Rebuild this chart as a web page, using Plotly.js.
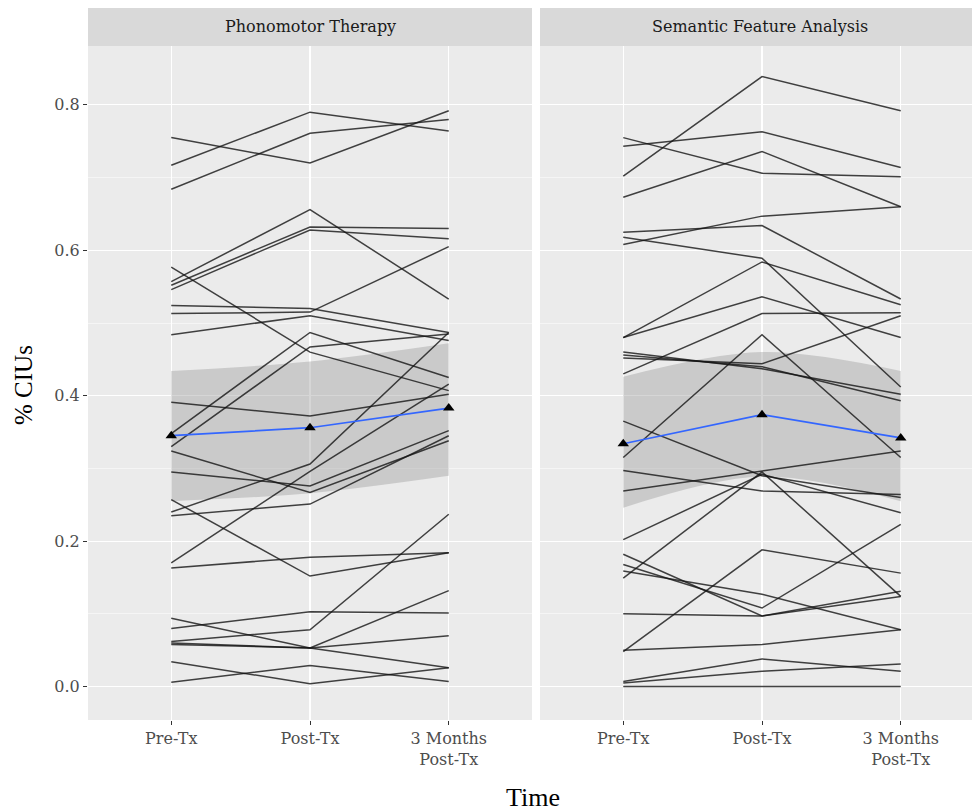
<!DOCTYPE html>
<html>
<head>
<meta charset="utf-8">
<script src="https://cdn.plot.ly/plotly-3.0.1.min.js"></script>
<style>html,body{margin:0;padding:0;background:#fff;}#chart{width:972px;height:811px;}</style>
</head>
<body>
<div id="chart"></div>
<script>
// ---- Data ----
const timeLabels = ["Pre-Tx", "Post-Tx", "3 Months<br>Post-Tx"];
const panelNames = ["Phonomotor Therapy", "Semantic Feature Analysis"];
const yTickVals = [0, 0.2, 0.4, 0.6, 0.8];
const yTickText = ["0.0", "0.2", "0.4", "0.6", "0.8"];

// Phonomotor Therapy: one value per participant at each time point
const pmtPre  = [0.755,0.717,0.684,0.557,0.552,0.546,0.577,0.524,0.513,0.484,0.391,0.348,0.330,0.240,0.235,0.170,0.295,0.324,0.257,0.163,0.094,0.080,0.062,0.060,0.058,0.034,0.006];
const pmtPost = [0.720,0.790,0.761,0.656,0.632,0.628,0.460,0.520,0.515,0.510,0.372,0.487,0.467,0.306,0.251,0.296,0.276,0.267,0.152,0.178,0.053,0.103,0.078,0.053,0.053,0.004,0.029];
const pmt3mo  = [0.792,0.764,0.780,0.533,0.630,0.616,0.407,0.487,0.605,0.476,0.402,0.425,0.485,0.487,0.345,0.416,0.352,0.338,0.184,0.184,0.026,0.101,0.237,0.132,0.070,0.026,0.007];
const pmtMean  = [0.345, 0.356, 0.383];
const pmtLower = [0.255, 0.266, 0.290];
const pmtUpper = [0.434, 0.447, 0.472];

// Semantic Feature Analysis
const sfaPre  = [0.702,0.743,0.755,0.673,0.608,0.625,0.618,0.480,0.480,0.430,0.460,0.452,0.456,0.315,0.365,0.297,0.269,0.202,0.149,0.182,0.168,0.159,0.100,0.048,0.050,0.007,0.005,0.000];
const sfaPost = [0.839,0.763,0.706,0.736,0.647,0.634,0.589,0.584,0.536,0.513,0.437,0.444,0.440,0.484,0.290,0.269,0.297,0.292,0.295,0.097,0.108,0.127,0.097,0.188,0.058,0.038,0.021,0.000];
const sfa3mo  = [0.792,0.714,0.701,0.660,0.660,0.533,0.412,0.525,0.480,0.514,0.402,0.510,0.393,0.315,0.260,0.264,0.324,0.239,0.124,0.131,0.223,0.078,0.124,0.156,0.078,0.021,0.031,0.000];
const sfaMean  = [0.334, 0.374, 0.342];
const sfaLower = [0.246, 0.289, 0.255];
const sfaUpper = [0.426, 0.460, 0.434];

// ---- Build traces ----
const FONT = "DejaVu Serif, serif";
const TITLEFONT = "Liberation Serif, Times New Roman, serif";
const traces = [];
function addPanel(pre, post, mo3, mean, lower, upper, xa, ya) {
  traces.push({x: timeLabels, y: lower, xaxis: xa, yaxis: ya, type: "scatter", mode: "lines",
    line: {width: 0, shape: "spline", smoothing: 1}, hoverinfo: "skip", showlegend: false});
  traces.push({x: timeLabels, y: upper, xaxis: xa, yaxis: ya, type: "scatter", mode: "lines",
    fill: "tonexty", fillcolor: "rgba(153,153,153,0.4)",
    line: {width: 0, shape: "spline", smoothing: 1}, hoverinfo: "skip", showlegend: false});
  for (let i = 0; i < pre.length; i++) {
    traces.push({x: timeLabels, y: [pre[i], post[i], mo3[i]], xaxis: xa, yaxis: ya,
      type: "scatter", mode: "lines", line: {color: "rgba(20,20,20,0.8)", width: 1.5},
      showlegend: false});
  }
  traces.push({x: timeLabels, y: mean, xaxis: xa, yaxis: ya, type: "scatter", mode: "lines",
    line: {color: "#3366FF", width: 1.7}, showlegend: false});
  traces.push({x: timeLabels, y: mean, xaxis: xa, yaxis: ya, type: "scatter", mode: "markers",
    marker: {symbol: "triangle-up", size: 10, color: "#000"}, showlegend: false});
}
addPanel(pmtPre, pmtPost, pmt3mo, pmtMean, pmtLower, pmtUpper, "x", "y");
addPanel(sfaPre, sfaPost, sfa3mo, sfaMean, sfaLower, sfaUpper, "x2", "y2");

const W = 972, H = 811, mL = 88, mR = 0, mT = 46, mB = 91;
const pw = W - mL - mR, ph = H - mT - mB;
const unit = (532 - 88) / 3.2;             // pixels per category step
const d1 = [0, (532 - mL) / pw], d2 = [(540 - mL) / pw, 1];
const x2End = -0.6 + (W - 540) / unit;      // right panel is cut by the image edge
const yRange = [-0.046, 0.881];

const xCommon = {
  type: "category", showgrid: true, gridcolor: "#ffffff", gridwidth: 1.1,
  zeroline: false, showline: false, ticks: "outside", ticklen: 4, tickcolor: "#333333", tickwidth: 1,
  tickfont: {family: FONT, size: 16, color: "#4d4d4d"}, fixedrange: true
};
const yCommon = {
  range: yRange, tickvals: yTickVals, ticktext: yTickText, showgrid: true, gridcolor: "#ffffff",
  gridwidth: 1.1, zeroline: false, showline: false,
  minor: {dtick: 0.1, tick0: 0.1, showgrid: true, gridcolor: "#ffffff", gridwidth: 0.5, ticks: ""},
  tickfont: {family: FONT, size: 16, color: "#4d4d4d"}, fixedrange: true
};

const layout = {
  width: W, height: H,
  margin: {l: mL, r: mR, t: mT, b: mB, pad: 0},
  paper_bgcolor: "#ffffff", plot_bgcolor: "#ebebeb",
  showlegend: false,
  font: {family: FONT},
  xaxis: Object.assign({}, xCommon, {domain: d1, anchor: "y", range: [-0.6, 2.6]}),
  xaxis2: Object.assign({}, xCommon, {domain: d2, anchor: "y2", range: [-0.6, x2End]}),
  yaxis: Object.assign({}, yCommon, {domain: [0, 1], anchor: "x", ticks: "outside", ticklen: 4,
    tickcolor: "#333333", showticklabels: true}),
  yaxis2: Object.assign({}, yCommon, {domain: [0, 1], anchor: "x2", ticks: "", showticklabels: false}),
  shapes: [
    {type: "rect", xref: "paper", yref: "paper", x0: d1[0], x1: d1[1], y0: 1, y1: 1 + 38 / ph,
      fillcolor: "#d9d9d9", line: {width: 0}},
    {type: "rect", xref: "paper", yref: "paper", x0: d2[0], x1: d2[1], y0: 1, y1: 1 + 38 / ph,
      fillcolor: "#d9d9d9", line: {width: 0}}
  ],
  annotations: [
    {text: panelNames[0], xref: "paper", yref: "paper", x: (310 - mL) / pw, y: 1 + 20 / ph,
      xanchor: "center", yanchor: "middle", showarrow: false,
      font: {family: FONT, size: 16, color: "#1a1a1a"}},
    {text: panelNames[1], xref: "paper", yref: "paper", x: (760 - mL) / pw, y: 1 + 20 / ph,
      xanchor: "center", yanchor: "middle", showarrow: false,
      font: {family: FONT, size: 16, color: "#1a1a1a"}},
    {text: "Time", xref: "paper", yref: "paper", x: (533 - mL) / pw, y: (mT + ph - 798) / ph,
      xanchor: "center", yanchor: "middle", showarrow: false,
      font: {family: TITLEFONT, size: 26, color: "#000000"}},
    {text: "% CIUs", xref: "paper", yref: "paper", x: (23 - mL) / pw, y: (mT + ph - 385) / ph,
      textangle: -90, xanchor: "center", yanchor: "middle", showarrow: false,
      font: {family: TITLEFONT, size: 25, color: "#000000"}}
  ]
};

Plotly.newPlot("chart", traces, layout, {staticPlot: true, displayModeBar: false});
</script>
</body>
</html>
